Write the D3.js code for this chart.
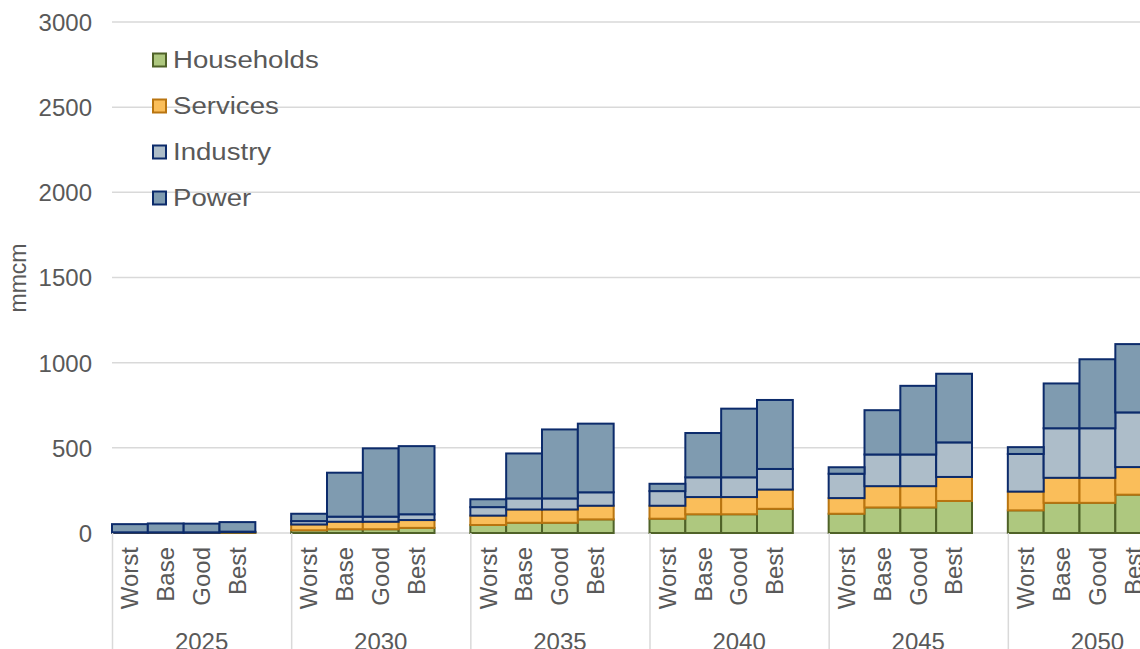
<!DOCTYPE html>
<html>
<head>
<meta charset="utf-8">
<script src="https://cdn.jsdelivr.net/npm/d3@7/dist/d3.min.js"></script>
<style>
  html, body { margin: 0; padding: 0; background: #fff; overflow: hidden; }
  svg { display: block; font-family: "Liberation Sans", Arial, sans-serif; }
</style>
</head>
<body>
<svg id="chart" width="1140" height="649"></svg>
<script>
// Gas demand by sector and scenario (mmcm)
const years = ["2025", "2030", "2035", "2040", "2045", "2050"];
const scenarios = ["Worst", "Base", "Good", "Best"];
const yTicks = [0, 500, 1000, 1500, 2000, 2500, 3000];

// One value per year x scenario, year-major order
const households = [1, 1, 1, 2,   16, 22, 22, 30,   47, 60, 60, 80,   84, 110, 110, 142,   113, 150, 150, 188,   133, 177, 177, 225];
const services   = [1, 1, 1, 3,   34, 44, 44, 46,   55, 78, 78, 80,   76, 101, 101, 113,   92, 125, 125, 141,   110, 147, 147, 162];
const industry   = [2, 2, 2, 3,   20, 30, 30, 34,   50, 65, 65, 79,   86, 116, 116, 121,   143, 186, 186, 203,   221, 291, 291, 321];
const power      = [48, 52, 51, 56, 43, 258, 401, 400, 46, 264, 405, 403, 43, 260, 403, 405,  38, 260, 403, 403,   40, 263, 405, 401];

const seriesNames = ["Households", "Services", "Industry", "Power"];
const seriesValues = [households, services, industry, power];
const fills   = ["#AEC87F", "#FABE5A", "#ADBDC9", "#7F9BB0"];
const strokes = ["#4F6228", "#B97510", "#0C2B6B", "#0C2B6B"];

const svg = d3.select("#chart");
const textColor = "#595959";
const gridColor = "#D9D9D9";

// Scales: each year band holds four scenario bars plus one empty slot
const x0 = d3.scaleBand().domain(years).range([112, 1187]).padding(0);
const x1 = d3.scaleBand().domain(scenarios).range([0, x0.bandwidth() * 4 / 5]).padding(0);
const y = d3.scaleLinear().domain([0, 3000]).range([533, 22]);

// Horizontal gridlines
svg.append("g")
  .selectAll("line")
  .data(yTicks)
  .join("line")
  .attr("x1", 112).attr("x2", 1140)
  .attr("y1", d => y(d)).attr("y2", d => y(d))
  .attr("stroke", gridColor).attr("stroke-width", 1.5);

// Y axis labels
const yAxis = d3.axisLeft(y).tickValues(yTicks).tickFormat(d3.format("d")).tickSize(0).tickPadding(0);
const yg = svg.append("g").attr("transform", "translate(92,0)").call(yAxis);
yg.select(".domain").remove();
yg.selectAll("text")
  .attr("fill", textColor)
  .style("font-size", "24px")
  .style("font-family", "'Liberation Sans', Arial, sans-serif")
  .attr("dy", "0.35em");

// Y axis title
svg.append("text")
  .attr("transform", "translate(26,278) rotate(-90)")
  .attr("text-anchor", "middle")
  .attr("fill", textColor)
  .style("font-size", "23px")
  .text("mmcm");

// Stacked bars
const rows = [];
years.forEach((yr, yi) => {
  scenarios.forEach((sc, si) => {
    const idx = yi * scenarios.length + si;
    const row = { year: yr, scenario: sc };
    seriesNames.forEach((s, k) => { row[s] = seriesValues[k][idx]; });
    rows.push(row);
  });
});
const stacked = d3.stack().keys(seriesNames)(rows);

const barLayer = svg.append("g");
stacked.forEach((layer, k) => {
  barLayer.append("g")
    .attr("fill", fills[k])
    .attr("stroke", strokes[k])
    .attr("stroke-width", 2)
    .selectAll("rect")
    .data(layer)
    .join("rect")
    .attr("x", d => x0(d.data.year) + x1(d.data.scenario))
    .attr("width", x1.bandwidth())
    .attr("y", d => y(d[1]))
    .attr("height", d => y(d[0]) - y(d[1]));
});

// Category axis: group separators
svg.append("g")
  .selectAll("line")
  .data(years)
  .join("line")
  .attr("x1", d => x0(d) + 0.5).attr("x2", d => x0(d) + 0.5)
  .attr("y1", 533).attr("y2", 649)
  .attr("stroke", gridColor).attr("stroke-width", 1.5);

// Scenario labels (rotated)
const scenLabels = svg.append("g");
years.forEach(yr => {
  scenarios.forEach(sc => {
    const cx = x0(yr) + x1(sc) + x1.bandwidth() / 2;
    scenLabels.append("text")
      .attr("transform", `translate(${cx},547) rotate(-90)`)
      .attr("text-anchor", "end")
      .attr("dy", "0.35em")
      .attr("fill", textColor)
      .style("font-size", "24px")
      .text(sc);
  });
});

// Year labels
svg.append("g")
  .selectAll("text")
  .data(years)
  .join("text")
  .attr("x", d => x0(d) + x0.bandwidth() / 2)
  .attr("y", 650)
  .attr("text-anchor", "middle")
  .attr("fill", textColor)
  .style("font-size", "24px")
  .text(d => d);

// Legend
const legendY = [60, 106, 152, 198];
const legend = svg.append("g");
seriesNames.forEach((name, k) => {
  const g = legend.append("g").attr("transform", `translate(0,${legendY[k]})`);
  g.append("rect")
    .attr("x", 153).attr("y", -6.5)
    .attr("width", 13).attr("height", 13)
    .attr("fill", fills[k]).attr("stroke", strokes[k]).attr("stroke-width", 2);
  g.append("text")
    .attr("transform", "translate(173,0) scale(1.15,1)")
    .attr("dy", "0.35em")
    .attr("fill", textColor)
    .style("font-size", "24px")
    .text(name);
});
</script>
</body>
</html>
